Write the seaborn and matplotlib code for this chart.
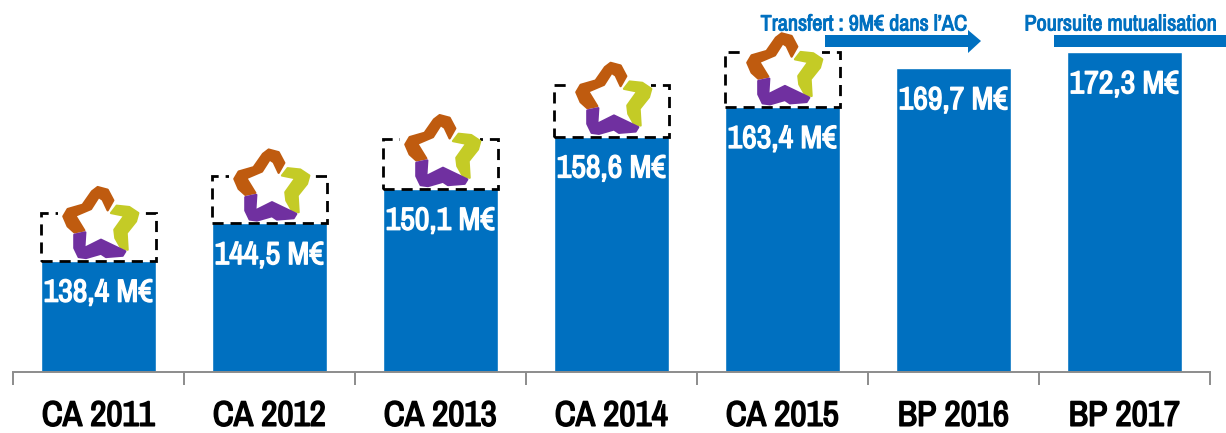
import matplotlib
matplotlib.use("Agg")
import matplotlib.pyplot as plt
import matplotlib.patheffects as pe
import seaborn as sns
import pandas as pd
from matplotlib.transforms import Affine2D
from matplotlib.patches import Polygon, Rectangle

categories = ["CA 2011", "CA 2012", "CA 2013", "CA 2014", "CA 2015", "BP 2016", "BP 2017"]
values = [138.4, 144.5, 150.1, 158.6, 163.4, 169.7, 172.3]
labels = ["138,4 M€", "144,5 M€", "150,1 M€", "158,6 M€", "163,4 M€", "169,7 M€", "172,3 M€"]
dashed_extra = [7.7, 7.7, 8.1, 8.3, 9.0]
notes = ["Transfert : 9M€ dans l’AC", "Poursuite mutualisation"]

BLUE = "#0070C0"
FONT = ["Archivo Narrow", "Liberation Sans", "DejaVu Sans"]

def heavy(color, w=0.9):
    return [pe.withStroke(linewidth=w, foreground=color)]

sns.set_theme(style="white")
plt.rcParams["font.family"] = FONT

fig = plt.figure(figsize=(12.26, 4.33), dpi=100)
ax = fig.add_axes([0, 61 / 433, 1, 372 / 433])
df = pd.DataFrame({"cat": categories, "val": values})
sns.barplot(data=df, x="cat", y="val", color=BLUE, saturation=1, width=114.5 / 171, ax=ax, zorder=2)
ax.set_xlim(-0.575, 6.595)
ax.set_ylim(120.3, 180.8)
ax.set_xlabel("")
ax.set_ylabel("")
ax.set_yticks([])
for s in ["top", "left", "right"]:
    ax.spines[s].set_visible(False)
ax.spines["bottom"].set_color("#8C8C8C")
ax.spines["bottom"].set_linewidth(1.4)
ax.spines["bottom"].set_bounds(-0.5, 6.5)
ax.set_xticks(range(len(categories)))
ax.set_xticklabels(categories, fontsize=25.5, fontweight="bold", color="black")
for t in ax.get_xticklabels():
    t.set_path_effects(heavy("black", 1.1))
ax.set_xticks([i - 0.5 for i in range(len(categories) + 1)], minor=True)
ax.tick_params(axis="x", which="major", length=0, pad=20)
ax.tick_params(axis="x", which="minor", length=9, width=1.4, color="#8C8C8C", bottom=True)

for i, (v, lab) in enumerate(zip(values, labels)):
    ax.annotate(lab, (i, v), xytext=(0, -23), textcoords="offset points",
                ha="center", va="center", color="white", fontsize=23, fontweight="bold", zorder=6,
                path_effects=heavy("white", 1.0))

# logo outlines, traced at 3x with the bar's top-centre at (177, 243)
orange = [(72, 110), (85, 88), (130, 75), (158, 35), (175, 22), (205, 30), (222, 62), (205, 92),
          (190, 60), (178, 52), (155, 88), (108, 108), (135, 152), (105, 158), (85, 140)]
yellow = [(232, 78), (270, 82), (297, 100), (290, 125), (262, 160), (265, 210), (245, 205),
          (228, 175), (225, 150), (255, 108), (215, 100)]
purple = [(105, 165), (138, 158), (135, 205), (185, 180), (258, 215), (250, 228), (200, 232),
          (185, 222), (140, 235), (118, 232), (105, 205)]

def px(points):
    return [((x - 177) / 3, (243 - y) / 3) for x, y in points]

for i, extra in enumerate(dashed_extra):
    ax.bar(i, extra, bottom=values[i], width=114.5 / 171, facecolor="none", edgecolor="black",
           linewidth=2, linestyle=(0, (4, 2.5)), zorder=3)
    ox, oy = ax.transData.transform((i, values[i]))
    tr = Affine2D().translate(ox, oy)
    ax.add_patch(Rectangle((-40, 10), 80, 62, facecolor="white", edgecolor="none",
                           transform=tr, zorder=3.5, clip_on=False))
    for pts, col in ((orange, "#BF5B0F"), (yellow, "#C4CB26"), (purple, "#7030A0")):
        ax.add_patch(Polygon(px(pts), closed=True, facecolor=col, edgecolor=col, linewidth=1.6,
                             joinstyle="round", transform=tr, zorder=4, clip_on=False))

# arrows and notes, placed in figure pixels
H = 433
def arrow(x0, x1, tip):
    pts = [(x0, 35), (x1, 35), (x1, 30), (tip, 41), (x1, 53), (x1, 47), (x0, 47)]
    fig.add_artist(Polygon([(x / 1226, 1 - y / H) for x, y in pts], closed=True, facecolor=BLUE,
                           edgecolor="none", transform=fig.transFigure, zorder=5))
arrow(825, 968, 981)
arrow(1054, 1240, 1260)
fig.text(864 / 1226, 1 - 24.5 / H, notes[0], ha="center", va="center", color=BLUE, fontsize=16,
         fontweight="bold", path_effects=heavy(BLUE, 0.7))
fig.text(1121 / 1226, 1 - 24.5 / H, notes[1], ha="center", va="center", color=BLUE, fontsize=16,
         fontweight="bold", path_effects=heavy(BLUE, 0.7))

fig.savefig("out.png", dpi=100)
